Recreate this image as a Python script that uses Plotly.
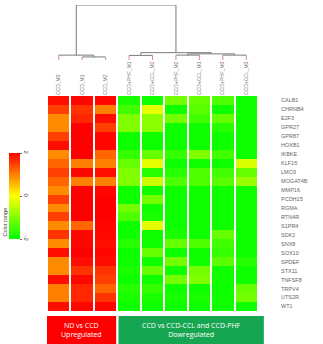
import plotly.graph_objects as go

W, H = 323, 344

genes = ["CALB1", "CHRNB4", "E2F3", "GPR27", "GPR87", "HOXB1", "IKBKE", "KLF15",
         "LMO3", "MOGAT4B", "MMP16", "PCDH15", "RGMA", "RTN4R", "S1PR4", "SDK2",
         "SNX8", "SOX10", "SPDEF", "STX11", "TNFSF8", "TRPV4", "UTS2R", "WT1"]
samples = ["CCD_M3", "CCD_M1", "CCD_M2", "CCD+PHF_M1", "CCD+CCL_M2",
           "CCD+PHF_M2", "CCD+CCL_M1", "CCD+PHF_M3", "CCD+CCL_M3"]

ccd_m3 = [1.9, 1.5, 0.9, 0.9, 1.5, 1.9, 0.9, 1.2, 1.5, 1.2, 0.9, 1.5,
          0.9, 1.5, 0.9, 1.6, 0.9, 1.9, 0.9, 0.9, 1.9, 1.0, 1.0, 1.9]
ccd_m1 = [1.95, 1.6, 1.7, 2.0, 2.0, 2.0, 2.0, 1.0, 1.95, 1.0, 2.0, 2.0,
          2.0, 2.0, 1.2, 1.95, 1.95, 2.0, 1.9, 1.6, 1.95, 1.7, 1.7, 1.95]
ccd_m2 = [1.95, 1.0, 1.9, 1.5, 1.95, 1.95, 1.2, 1.0, 1.9, 1.0, 1.95, 2.0,
          2.0, 2.0, 1.95, 1.95, 1.9, 1.95, 1.9, 1.6, 1.5, 1.2, 1.6, 1.95]
phf_m1 = [-1.8, -1.5, -1.0, -1.0, -1.9, -1.9, -1.6, -1.2, -1.0, -1.0, -1.9, -1.9,
          -1.1, -1.4, -1.9, -1.9, -1.7, -1.9, -1.9, -1.8, -1.9, -1.7, -1.8, -1.9]
ccl_m2 = [-1.9, -0.2, -0.9, -0.9, -1.9, -1.9, -1.2, -0.2, -1.7, -0.4, -1.9, -1.1,
          -1.9, -1.8, -0.2, -1.9, -1.9, -1.2, -1.9, -1.2, -1.9, -1.6, -1.8, -1.9]
phf_m2 = [-1.1, -1.9, -1.1, -1.9, -1.9, -1.9, -1.6, -1.9, -1.7, -1.4, -1.9, -1.9,
          -1.9, -1.9, -1.9, -1.8, -1.2, -1.9, -1.1, -1.9, -1.1, -1.9, -1.8, -1.9]
ccl_m1 = [-1.2, -1.3, -1.5, -1.9, -1.9, -1.9, -1.0, -1.9, -1.4, -1.4, -1.9, -1.9,
          -1.9, -1.9, -1.9, -1.9, -1.4, -1.9, -1.9, -1.1, -1.0, -1.9, -1.8, -1.9]
phf_m3 = [-1.4, -1.9, -1.2, -1.7, -1.9, -1.9, -1.5, -1.9, -1.5, -1.3, -1.9, -1.9,
          -1.9, -1.9, -1.9, -1.2, -1.5, -1.6, -1.3, -1.9, -1.9, -1.9, -1.9, -1.9]
ccl_m3 = [-1.9, -1.9, -1.9, -1.9, -1.9, -1.9, -1.9, -0.3, -1.2, -0.8, -1.9, -1.9,
          -1.9, -1.9, -1.9, -1.9, -1.9, -1.9, -1.7, -1.9, -1.9, -1.2, -1.1, -1.9]

columns = [ccd_m3, ccd_m1, ccd_m2, phf_m1, ccl_m2, phf_m2, ccl_m1, phf_m3, ccl_m3]

# dendrogram linkage: (child_a, child_b, height); leaves 0..8, new nodes from 9
linkage = [(1, 2, 1.0), (0, 9, 1.6), (3, 4, 1.5), (5, 6, 1.6), (7, 8, 1.6),
           (12, 13, 2.0), (11, 14, 2.4), (10, 15, 18.0)]

group_labels = ["ND vs CCD<br>Upregulated", "CCD vs CCD-CCL and CCD-PHF<br>Dowregulated"]
group_sizes = [3, 6]
group_colors = ["#fd0101", "#16a651"]

z = [list(r) for r in zip(*columns)]
n = len(samples)
idx = list(range(n))
gidx = list(range(len(genes)))

hm_x0, hm_x1 = 47 / W, 258 / W
hm_y0, hm_y1 = 1 - 311 / H, 1 - 96 / H


def col_to_paper(c):
    return hm_x0 + (c + 0.5) / n * (hm_x1 - hm_x0)


fig = go.Figure()

fig.add_trace(go.Heatmap(
    z=z, x=idx, y=gidx, zmin=-2, zmax=2, xgap=2,
    colorscale=[[0, "#00ff00"], [0.5, "#ffff00"], [1, "#ff0000"]],
    colorbar=dict(thickness=11, len=86 / H, lenmode="fraction",
                  x=9 / W, xanchor="left", y=1 - 153 / H, yanchor="top",
                  tickvals=[-2, 0, 2], ticktext=["-2", "0", "2"], tickangle=90,
                  tickfont=dict(size=6, color="#444", family="Liberation Sans"),
                  ticks="outside", ticklen=2, tickcolor="#666",
                  outlinewidth=0, xpad=0, ypad=0),
    hoverinfo="skip"))

# dendrogram
pos = {i: float(i) for i in idx}
hgt = {i: 0.0 for i in idx}
dx, dy, lx, ly = [], [], [], []
node = n
for a, b, h in linkage:
    for c in (a, b):
        if c < n:
            lx += [pos[c], pos[c], None]
            ly += [hgt[c], h, None]
        else:
            dx += [pos[c], pos[c], None]
            dy += [hgt[c], h, None]
    dx += [pos[a], pos[b], None]
    dy += [h, h, None]
    pos[node] = (pos[a] + pos[b]) / 2
    hgt[node] = h
    node += 1

fig.add_trace(go.Scatter(x=dx, y=dy, xaxis="x2", yaxis="y3", mode="lines",
                         line=dict(color="#7a7a7a", width=1), hoverinfo="skip",
                         showlegend=False))
fig.add_trace(go.Scatter(x=lx, y=ly, xaxis="x2", yaxis="y3", mode="lines",
                         line=dict(color="#d98a8a", width=1), hoverinfo="skip",
                         showlegend=False))

# invisible trace for gene label axis
fig.add_trace(go.Scatter(x=[0] * len(genes), y=gidx, xaxis="x", yaxis="y2",
                         mode="markers", marker=dict(opacity=0), hoverinfo="skip",
                         showlegend=False))

fig.update_layout(
    width=W, height=H, margin=dict(l=0, r=0, t=0, b=0, pad=0),
    paper_bgcolor="white", plot_bgcolor="white", showlegend=False,
    xaxis=dict(domain=[hm_x0, hm_x1], range=[-0.5, n - 0.5], side="top",
               tickvals=idx, ticktext=samples, tickangle=-90, ticks="",
               tickfont=dict(size=5, color="#777", family="Liberation Sans"),
               showgrid=False, zeroline=False, showline=False),
    yaxis=dict(domain=[hm_y0, hm_y1], range=[len(genes) - 0.5, -0.5],
               showticklabels=False, ticks="", showgrid=False, zeroline=False),
    yaxis2=dict(overlaying="y", anchor="free", position=280 / W, side="right",
                domain=[1 - 301.5 / H, 1 - 95.5 / H],
                range=[len(genes) - 0.5, -0.5], tickvals=gidx, ticktext=genes,
                ticks="", showgrid=False, zeroline=False, showline=False,
                tickfont=dict(size=5.5, color="#666", family="Liberation Sans")),
    xaxis2=dict(domain=[hm_x0, hm_x1], range=[-0.5, n - 0.5], anchor="y3",
                visible=False),
    yaxis3=dict(domain=[1 - 60 / H, 1 - 5 / H], range=[0, 18], anchor="x2",
                visible=False),
)

# group boxes below heatmap
start = 0
for lab, size, col in zip(group_labels, group_sizes, group_colors):
    c0 = start - 0.45 if start > 0 else start - 0.5
    c1 = start + size - 0.55 if start + size < n else start + size - 0.5 + 0.25
    x0, x1 = col_to_paper(c0), col_to_paper(c1)
    fig.add_shape(type="rect", xref="paper", yref="paper", x0=x0, x1=x1,
                  y0=0, y1=1 - 316 / H, fillcolor=col, line=dict(width=0),
                  layer="above")
    fig.add_annotation(x=(x0 + x1) / 2, xref="paper", y=1 - 330 / H, yref="paper",
                       xanchor="center", yanchor="middle",
                       text=lab, showarrow=False,
                       font=dict(size=7, color="white", family="Open Sans"))
    start += size

fig.add_annotation(x=4.5 / W, y=1 - 222 / H, xref="paper", yref="paper",
                   xanchor="center", yanchor="middle",
                   text="Color range", textangle=-90, showarrow=False,
                   font=dict(size=5.5, color="#444", family="Liberation Sans"))

fig.write_html("out.html")
